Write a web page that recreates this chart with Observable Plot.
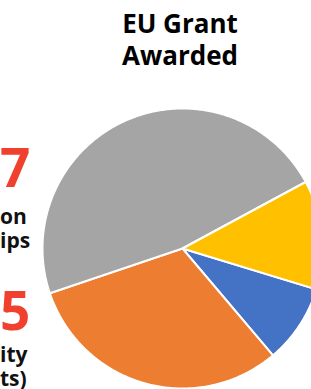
<!DOCTYPE html>
<html>
<head>
<meta charset="utf-8">
<script src="https://cdn.jsdelivr.net/npm/d3@7"></script>
<script src="https://cdn.jsdelivr.net/npm/@observablehq/plot@0.6"></script>
<style>
  html, body { margin: 0; padding: 0; background: #fff; overflow: hidden; }
  #wrap { position: relative; width: 311px; height: 389px; overflow: hidden; font-family: "Open Sans", sans-serif; }
  #chart { position: absolute; left: 0; top: 0; }
  .t { position: absolute; font-weight: 700; line-height: 1; white-space: nowrap; }
  .title { left: 80px; width: 200px; text-align: center; font-size: 26px; line-height: 32px; color: #000; }
  .big { left: 0; width: 25px; text-align: right; font-size: 53px; color: #F0412F; }
  .lab { left: 0; width: 25px; text-align: right; font-size: 21px; line-height: 24px; font-weight: 700; color: #111; }
</style>
</head>
<body>
<div id="wrap">
  <div id="chart"></div>
  <div class="t title" style="top:7px">EU Grant<br>Awarded</div>
  <div class="t big" style="top:140px">7</div>
  <div class="t lab" style="top:204px">on<br>ips</div>
  <div class="t big" style="top:283px">5</div>
  <div class="t lab" style="top:342px">ity<br>ts)</div>
</div>
<script>
const categories = ["Segment A", "Segment B", "Segment C", "Segment D"];
const values = [9.1, 31.0, 47.3, 12.6];
const colors = ["#4472C4", "#ED7D31", "#A5A5A5", "#FFC000"];
const firstSliceAngle = 107; // degrees, clockwise from top

const start = firstSliceAngle * Math.PI / 180;
const arcs = d3.pie().sort(null).startAngle(start).endAngle(start + 2 * Math.PI)(values);

const pts = [];
arcs.forEach((a, i) => {
  const cat = categories[i];
  pts.push({cat, x: 0, y: 0});
  const n = Math.max(2, Math.ceil((a.endAngle - a.startAngle) / 0.01));
  for (let k = 0; k <= n; k++) {
    const t = a.startAngle + (a.endAngle - a.startAngle) * k / n;
    pts.push({cat, x: Math.sin(t), y: Math.cos(t)});
  }
  pts.push({cat, x: 0, y: 0});
});

const svg = Plot.plot({
  width: 311,
  height: 389,
  margin: 0,
  x: {domain: [-1, 1], range: [42, 322], axis: null},
  y: {domain: [-1, 1], range: [388, 108], axis: null},
  color: {domain: categories, range: colors},
  marks: [
    Plot.line(pts, {x: "x", y: "y", z: "cat", fill: "cat", stroke: "white", strokeWidth: 2, strokeLinejoin: "round"})
  ]
});
document.getElementById("chart").appendChild(svg);
</script>
</body>
</html>
